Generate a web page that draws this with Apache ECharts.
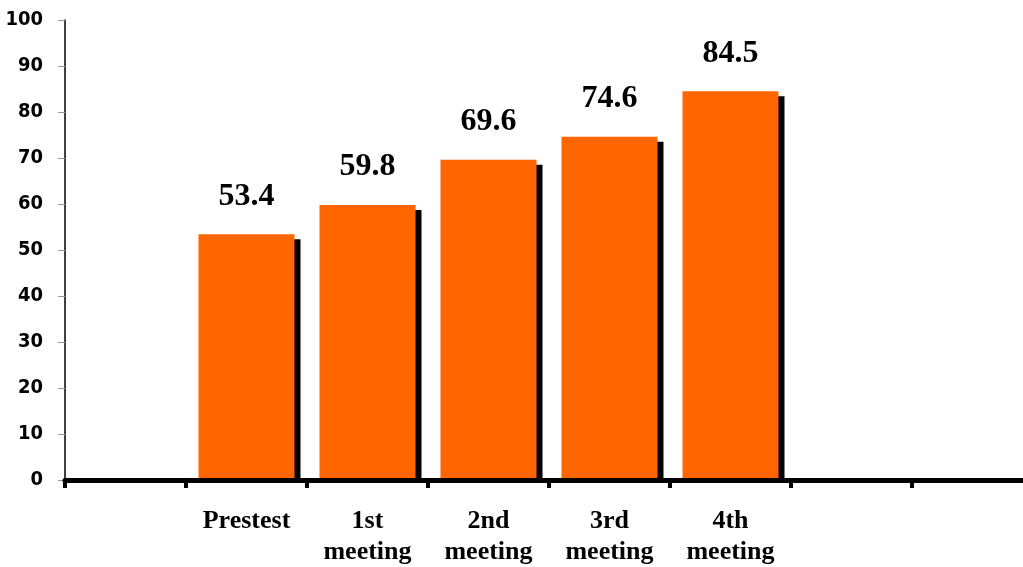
<!DOCTYPE html>
<html>
<head>
<meta charset="utf-8">
<script src="https://cdn.jsdelivr.net/npm/echarts@6/dist/echarts.min.js"></script>
<style>html,body{margin:0;padding:0;background:#fff;}#c{width:1023px;height:567px;}</style>
</head>
<body>
<div id="c"></div>
<script>
const categories = ['', 'Prestest', '1st\nmeeting', '2nd\nmeeting', '3rd\nmeeting', '4th\nmeeting', '', ''];
const values = [null, 53.4, 59.8, 69.6, 74.6, 84.5, null, null];
const yTicks = [0, 10, 20, 30, 40, 50, 60, 70, 80, 90, 100];

const BAR_W = 96;
const shadowData = [];
values.forEach(function (v, i) { if (v != null) shadowData.push([i, v]); });

const chart = echarts.init(document.getElementById('c'), null, {renderer: 'canvas'});
chart.setOption({
  animation: false,
  backgroundColor: '#fff',
  grid: {left: 65, top: 20, width: 968, height: 460, containLabel: false, outerBoundsMode: 'none'},
  xAxis: {
    type: 'category',
    data: categories,
    boundaryGap: true,
    z: 10,
    axisLine: {show: true, lineStyle: {color: '#000', width: 5}},
    axisTick: {show: true, inside: false, length: 8, lineStyle: {color: '#000', width: 4}, interval: 0},
    axisLabel: {
      interval: 0, margin: 26,
      fontFamily: "'Liberation Serif', 'Times New Roman', serif",
      fontWeight: 'bold', fontSize: 26, lineHeight: 31, color: '#000'
    },
    splitLine: {show: false}
  },
  yAxis: {
    type: 'value',
    min: yTicks[0], max: yTicks[yTicks.length - 1], interval: 10,
    axisLine: {show: true, lineStyle: {color: '#000', width: 1.5}},
    axisTick: {show: true, length: 7, lineStyle: {color: '#999', width: 1}},
    axisLabel: {
      margin: 22,
      fontFamily: "'Liberation Sans Narrow', 'DejaVu Sans Condensed', 'Arial Narrow', sans-serif",
      fontWeight: 'bold', fontSize: 20, color: '#000'
    },
    splitLine: {show: false}
  },
  series: [{
    type: 'custom',
    z: 1,
    silent: true,
    data: shadowData,
    renderItem: function (params, api) {
      const top = api.coord([api.value(0), api.value(1)]);
      const base = api.coord([api.value(0), 0]);
      return {
        type: 'rect',
        shape: {x: top[0] - BAR_W / 2 + 6, y: top[1] + 5, width: BAR_W, height: base[1] - top[1] - 5},
        style: {fill: '#000'}
      };
    }
  }, {
    type: 'bar',
    data: values,
    barWidth: BAR_W,
    z: 2,
    itemStyle: {color: '#FF6600'},
    label: {
      show: true, position: 'top', distance: 22,
      fontFamily: "'Liberation Serif', 'Times New Roman', serif",
      fontWeight: 'bold', fontSize: 32, color: '#000'
    }
  }]
});
</script>
</body>
</html>
